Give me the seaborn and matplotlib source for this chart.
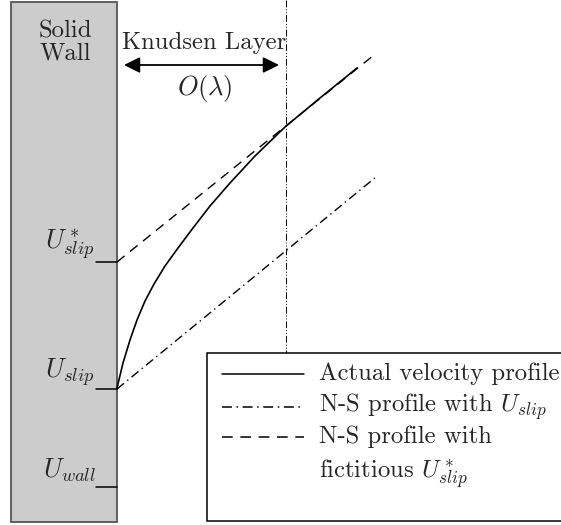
import matplotlib
matplotlib.use("Agg")
import matplotlib.pyplot as plt
from matplotlib.patches import Rectangle
import pandas as pd
import seaborn as sns

# schematic drawn in image-pixel coordinates (x to the right, y downward)
wall_face = 117
tick_names = ["$U^*_{slip}$", "$U_{slip}$", "$U_{wall}$"]
tick_levels = [262, 389, 487]

actual_x = [117, 123, 130, 137, 145, 154, 165, 178, 193, 210, 230, 255, 285, 320, 357]
actual_y = [388, 363, 340, 320, 301, 284, 266, 248, 228, 206, 183, 156, 127, 98, 68]
ns_slip_x = [117, 376]
ns_slip_y = [389, 177]
ns_fict_x = [117, 374]
ns_fict_y = [262, 55]
knudsen_edge = 286

sns.set_theme(style="white")
plt.rcParams["font.family"] = "serif"
plt.rcParams["font.serif"] = ["cmr10", "DejaVu Serif"]
plt.rcParams["mathtext.fontset"] = "cm"
plt.rcParams["axes.unicode_minus"] = False

fig = plt.figure(figsize=(5.61, 5.25), dpi=100)
ax = fig.add_axes([0, 0, 1, 1])

fs = 17.8
ms = 19

# wall
ax.add_patch(Rectangle((11, 2), wall_face - 11, 520, facecolor="#cccccc",
                       edgecolor="#555555", lw=1.3, zorder=1))
ax.text(65, 42, "Solid\nWall", ha="center", va="center", fontsize=fs,
        linespacing=1.0)
for name, lev in zip(tick_names, tick_levels):
    ax.plot([96, wall_face], [lev, lev], color="black", lw=1.1, zorder=3)
    ax.text(70, lev - 17, name, ha="center", va="center", fontsize=ms)

# knudsen layer
ax.plot([knudsen_edge, knudsen_edge], [0, 353], color="black", lw=0.7,
        dashes=(7, 2, 1, 2, 1, 2), zorder=2)
ax.annotate("", xy=(124, 65), xytext=(279, 65),
            arrowprops=dict(arrowstyle="<|-|>", color="black", lw=1.3,
                            mutation_scale=24, shrinkA=0, shrinkB=0))
ax.text(204, 43, "Knudsen Layer", ha="center", va="center", fontsize=fs)
ax.text(205, 88, r"$O(\lambda)$", ha="center", va="center", fontsize=ms)

# profiles
actual = pd.DataFrame({"x": actual_x, "y": actual_y})
sns.lineplot(data=actual, x="x", y="y", sort=False, ax=ax, color="black",
             lw=1.2, estimator=None)
sns.lineplot(x=ns_slip_x, y=ns_slip_y, ax=ax, color="black", lw=1.0,
             estimator=None).lines[-1].set_dashes((6.5, 3, 1, 3))
sns.lineplot(x=ns_fict_x, y=ns_fict_y, ax=ax, color="black", lw=1.0,
             estimator=None).lines[-1].set_dashes((7, 5))
ax.set_xlim(0, 561)
ax.set_ylim(525, 0)
ax.axis("off")

# legend box, drawn by hand so it runs off the right edge
ax.add_patch(Rectangle((207, 353), 360, 168, facecolor="white",
                       edgecolor="black", lw=1.1, zorder=5))
rows = [(374, "Actual velocity profile", None),
        (407, "N-S profile with $U_{slip}$", (6.5, 3, 1, 3)),
        (437, "N-S profile with", (7, 5))]
for y, lab, ds in rows:
    ln, = ax.plot([222, 304], [y, y], color="black", lw=1.1, zorder=6)
    if ds:
        ln.set_dashes(ds)
    ax.text(319, y, lab, ha="left", va="center", fontsize=fs, zorder=6)
ax.text(319, 474, "fictitious $U^*_{slip}$", ha="left", va="center",
        fontsize=fs, zorder=6)

fig.savefig("out.png", dpi=100)
